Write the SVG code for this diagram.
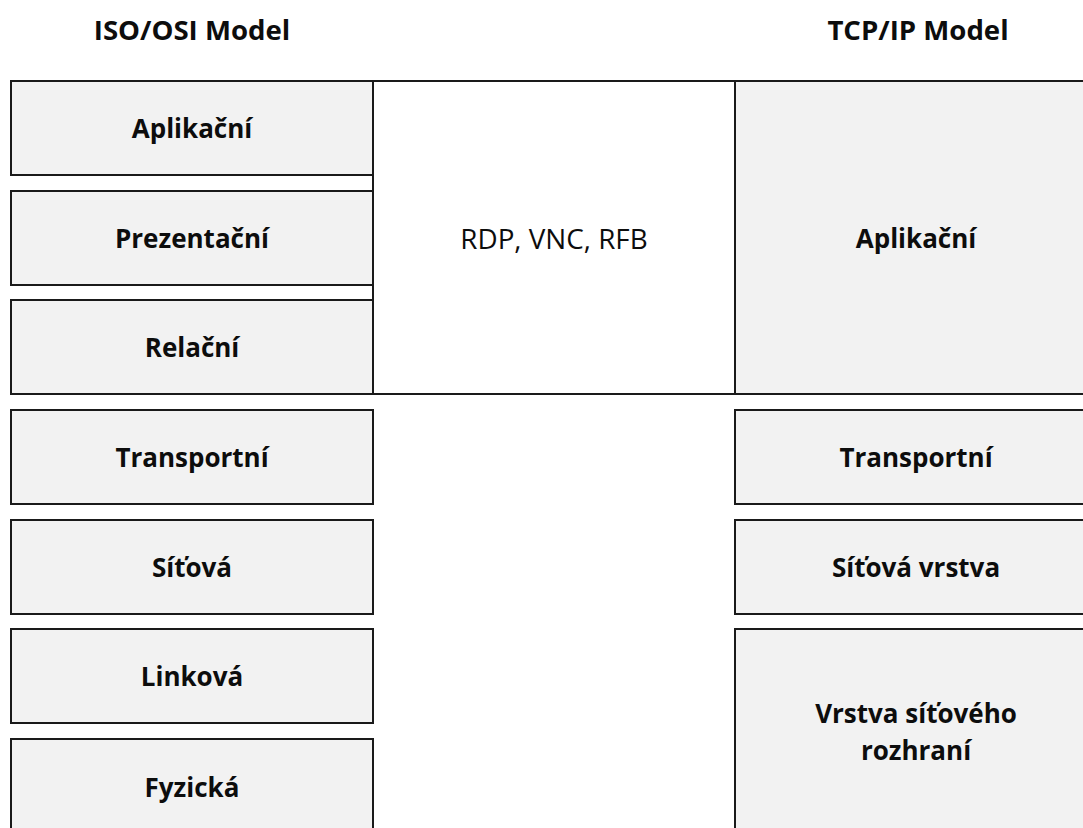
<svg xmlns="http://www.w3.org/2000/svg" width="1083" height="828" viewBox="0 0 1083 828">
<style>
.box{fill:#f2f2f2;stroke:#1a1a1a;stroke-width:2}
.mid{fill:#ffffff;stroke:#1a1a1a;stroke-width:2}
.lb{font-family:"Open Sans","Liberation Sans",sans-serif;font-weight:bold;font-size:26px;fill:#0d0d0d;text-anchor:middle}
.lr{font-family:"Open Sans","Liberation Sans",sans-serif;font-size:27.8px;fill:#0d0d0d;text-anchor:middle}
.hd{font-family:"Open Sans","Liberation Sans",sans-serif;font-weight:bold;font-size:27.6px;fill:#0d0d0d;text-anchor:middle}
</style>
<rect width="1083" height="828" fill="#ffffff"/>
<g id="headers">
<text class="hd" x="192" y="40">ISO/OSI Model</text>
<text class="hd" x="918" y="40">TCP/IP Model</text>
</g>
<g id="osi-aplikacni"><rect class="box" x="11" y="81" width="362" height="94"/><text class="lb" x="192" y="138">Aplikační</text></g>
<g id="osi-prezentacni"><rect class="box" x="11" y="191" width="362" height="94"/><text class="lb" x="192" y="248">Prezentační</text></g>
<g id="osi-relacni"><rect class="box" x="11" y="300" width="362" height="94"/><text class="lb" x="192" y="357">Relační</text></g>
<g id="osi-transportni"><rect class="box" x="11" y="410" width="362" height="94"/><text class="lb" x="192" y="467">Transportní</text></g>
<g id="osi-sitova"><rect class="box" x="11" y="520" width="362" height="94"/><text class="lb" x="192" y="577">Síťová</text></g>
<g id="osi-linkova"><rect class="box" x="11" y="629" width="362" height="94"/><text class="lb" x="192" y="686">Linková</text></g>
<g id="osi-fyzicka"><rect class="box" x="11" y="739" width="362" height="94"/><text class="lb" x="192" y="797">Fyzická</text></g>
<g id="protocols"><rect class="mid" x="373" y="81" width="362" height="313"/><text class="lr" x="554" y="248.5">RDP, VNC, RFB</text></g>
<g id="tcp-aplikacni"><rect class="box" x="735" y="81" width="362" height="313"/><text class="lb" x="916" y="248">Aplikační</text></g>
<g id="tcp-transportni"><rect class="box" x="735" y="410" width="362" height="94"/><text class="lb" x="916" y="467">Transportní</text></g>
<g id="tcp-sitova"><rect class="box" x="735" y="520" width="362" height="94"/><text class="lb" x="916" y="577">Síťová vrstva</text></g>
<g id="tcp-rozhrani"><rect class="box" x="735" y="629" width="362" height="206"/><text class="lb" x="916" y="723">Vrstva síťového</text><text class="lb" x="916" y="760">rozhraní</text></g>
<g id="connectors"/>
</svg>
